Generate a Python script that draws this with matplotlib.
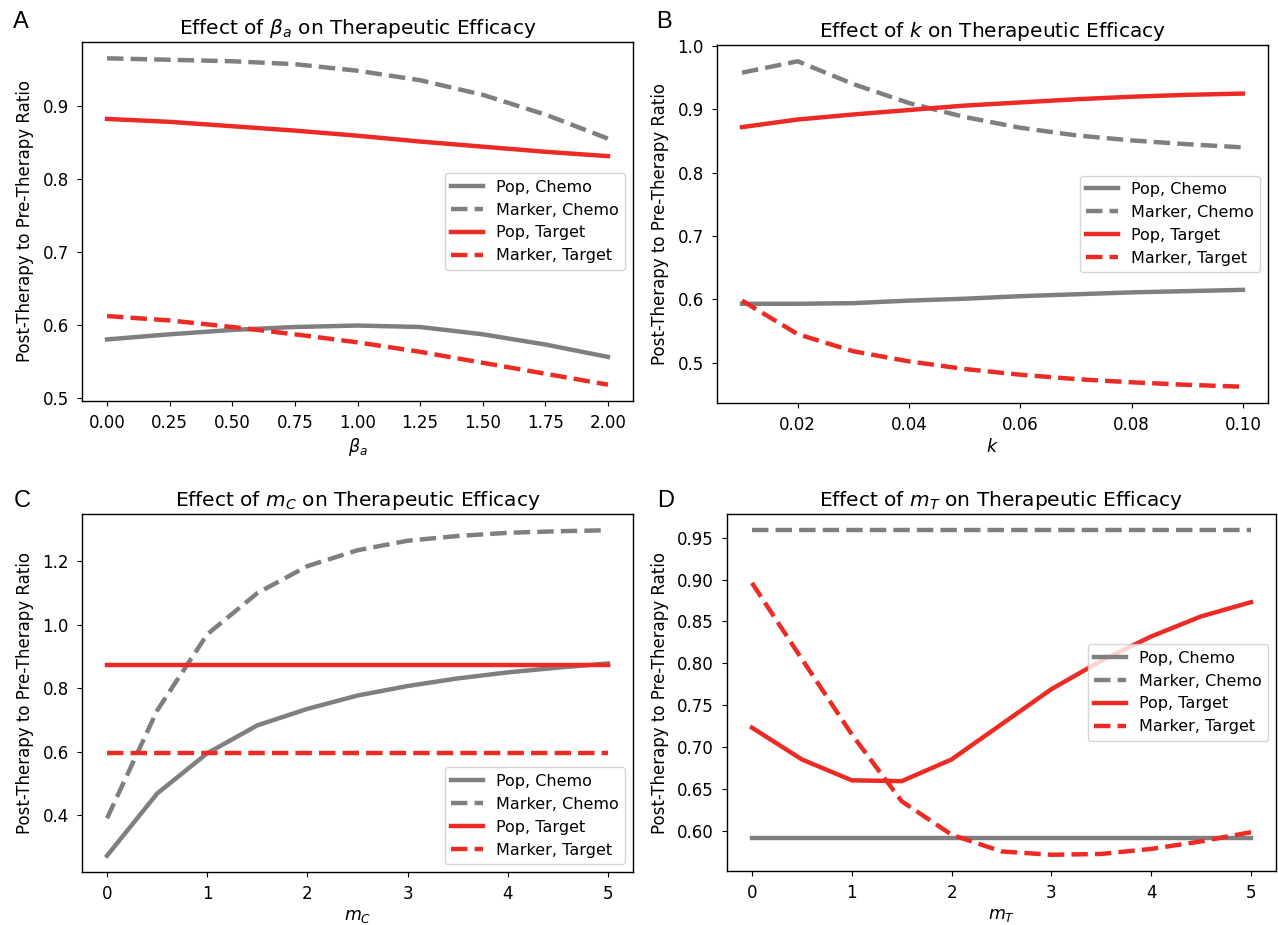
import numpy as np
import matplotlib
matplotlib.use("Agg")
import matplotlib.pyplot as plt

# ---- data ----
beta_a = [0.0, 0.25, 0.5, 0.75, 1.0, 1.25, 1.5, 1.75, 2.0]
a_pop_chemo = [0.580, 0.587, 0.593, 0.597, 0.599, 0.597, 0.587, 0.573, 0.556]
a_marker_chemo = [0.965, 0.963, 0.961, 0.957, 0.948, 0.935, 0.915, 0.888, 0.855]
a_pop_target = [0.882, 0.878, 0.872, 0.866, 0.859, 0.851, 0.844, 0.837, 0.831]
a_marker_target = [0.612, 0.606, 0.597, 0.587, 0.576, 0.563, 0.548, 0.533, 0.518]

k_vals = [0.01, 0.02, 0.03, 0.04, 0.05, 0.06, 0.07, 0.08, 0.09, 0.10]
b_pop_chemo = [0.593, 0.593, 0.594, 0.598, 0.601, 0.605, 0.608, 0.611, 0.613, 0.615]
b_marker_chemo = [0.958, 0.976, 0.940, 0.910, 0.888, 0.871, 0.859, 0.851, 0.845, 0.840]
b_pop_target = [0.872, 0.884, 0.892, 0.899, 0.906, 0.911, 0.916, 0.920, 0.923, 0.925]
b_marker_target = [0.598, 0.545, 0.518, 0.502, 0.490, 0.481, 0.474, 0.469, 0.465, 0.462]

m_c = [0.0, 0.5, 1.0, 1.5, 2.0, 2.5, 3.0, 3.5, 4.0, 4.5, 5.0]
c_pop_chemo = [0.272, 0.468, 0.595, 0.683, 0.735, 0.777, 0.807, 0.831, 0.850, 0.865, 0.878]
c_marker_chemo = [0.390, 0.730, 0.970, 1.100, 1.185, 1.235, 1.265, 1.280, 1.290, 1.295, 1.298]
c_pop_target = [0.872] * 11
c_marker_target = [0.595] * 11

m_t = [0.0, 0.5, 1.0, 1.5, 2.0, 2.5, 3.0, 3.5, 4.0, 4.5, 5.0]
d_pop_chemo = [0.591] * 11
d_marker_chemo = [0.959] * 11
d_pop_target = [0.723, 0.685, 0.660, 0.659, 0.685, 0.727, 0.769, 0.803, 0.832, 0.856, 0.873]
d_marker_target = [0.896, 0.805, 0.715, 0.635, 0.595, 0.575, 0.571, 0.572, 0.578, 0.587, 0.598]

labels = ["Pop, Chemo", "Marker, Chemo", "Pop, Target", "Marker, Target"]
GRAY = "#7f7f7f"
RED = "#ec2b24"

plt.rcParams["font.family"] = "DejaVu Sans"
plt.rcParams["axes.linewidth"] = 1.0

W, H = 1278, 925
fig = plt.figure(figsize=(W / 100, H / 100), dpi=100)


def px_axes(left, top, right, bottom):
    return fig.add_axes([left / W, 1 - bottom / H, (right - left) / W, (bottom - top) / H])


panels = [
    (px_axes(82, 42, 633, 401), beta_a,
     [a_pop_chemo, a_marker_chemo, a_pop_target, a_marker_target],
     r"$\beta_a$", "center right", "A", (13, 28)),
    (px_axes(717, 45, 1268, 403), k_vals,
     [b_pop_chemo, b_marker_chemo, b_pop_target, b_marker_target],
     r"$k$", "center right", "B", (656, 28)),
    (px_axes(82, 514, 633, 872), m_c,
     [c_pop_chemo, c_marker_chemo, c_pop_target, c_marker_target],
     r"$m_C$", "lower right", "C", (14, 507)),
    (px_axes(727, 514, 1276, 871), m_t,
     [d_pop_chemo, d_marker_chemo, d_pop_target, d_marker_target],
     r"$m_T$", "center right", "D", (657, 507)),
]

styles = [(GRAY, "-"), (GRAY, "--"), (RED, "-"), (RED, "--")]

for ax, x, series, xlab, loc, tag, (tx, ty) in panels:
    for ys, (col, ls), lab in zip(series, styles, labels):
        ax.plot(x, ys, color=col, linestyle=ls, linewidth=3.2, label=lab)
    ax.set_title("Effect of " + xlab + " on Therapeutic Efficacy", fontsize=14.5)
    ax.set_xlabel(xlab, fontsize=12.5, labelpad=3)
    ax.set_ylabel("Post-Therapy to Pre-Therapy Ratio", fontsize=12, labelpad=6)
    ax.tick_params(axis="x", labelsize=12, pad=6)
    ax.tick_params(axis="y", labelsize=12, pad=6)
    ax.legend(loc=loc, fontsize=11.5)
    fig.text(tx / W, 1 - ty / H, tag, fontsize=17, family="Liberation Sans", va="baseline")

fig.savefig("out.png", dpi=100)
